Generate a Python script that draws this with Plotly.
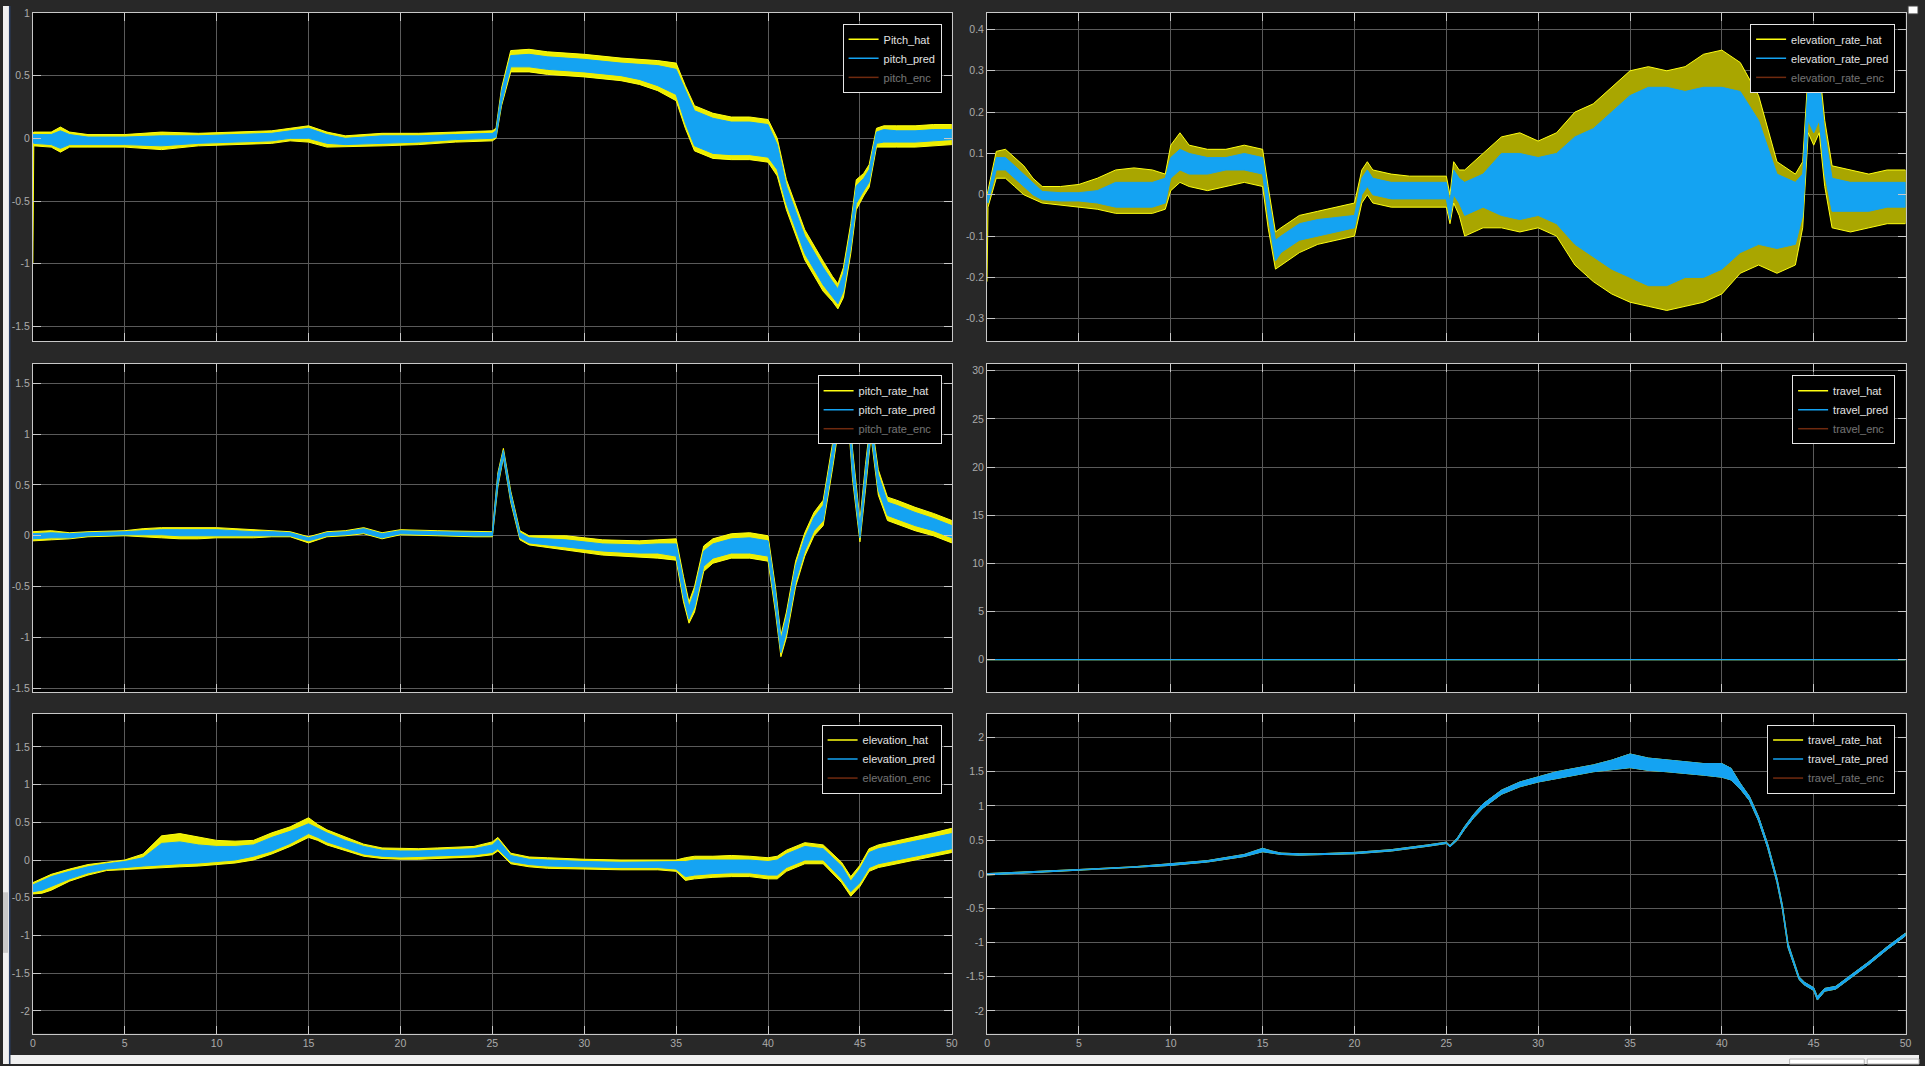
import plotly.graph_objects as go
import numpy as np

# ---------------- data ----------------
# Panel 1: pitch
pitch_t = [0, 0.05, 1, 1.5, 2, 3, 5, 7, 9, 11, 13, 14, 15, 16, 17, 19, 21, 23, 25, 25.2,
           25.5, 26, 27, 28, 30, 32, 33, 34, 35, 35.5, 36, 37, 38, 39, 40, 40.5, 41, 42, 43, 43.5,
           43.8, 44.1, 44.5, 44.8, 45.2, 45.5, 45.9, 46.3, 47, 48, 49, 50]
pitch_pred_lo = [-0.03, -0.04, -0.05, -0.08, -0.05, -0.05, -0.05, -0.06, -0.04, -0.03, -0.02, 0.0, 0.0, -0.04, -0.05,
                 -0.04, -0.03, -0.01, 0.0, 0.01, 0.28, 0.57, 0.57, 0.55, 0.53, 0.5, 0.47, 0.42, 0.35, 0.12,
                 -0.06, -0.12, -0.13, -0.13, -0.15, -0.25, -0.52, -0.92, -1.17, -1.26, -1.32, -1.22, -0.87, -0.52, -0.42,
                 -0.35, -0.04, -0.03, -0.03, -0.03, -0.02, -0.01]
pitch_pred_hi = [0.03, 0.03, 0.03, 0.06, 0.03, 0.01, 0.01, 0.02, 0.02, 0.03, 0.04, 0.06, 0.08, 0.03, 0.0,
                 0.02, 0.02, 0.03, 0.04, 0.06, 0.37, 0.66, 0.67, 0.65, 0.63, 0.6, 0.59, 0.58, 0.55, 0.38,
                 0.22, 0.16, 0.13, 0.13, 0.11, -0.05, -0.38, -0.78, -1.03, -1.14, -1.2, -1.08, -0.73, -0.38, -0.32,
                 -0.25, 0.05, 0.07, 0.06, 0.06, 0.07, 0.07]
pitch_hat_lo = [-1.0, -0.06, -0.07, -0.11, -0.07, -0.07, -0.07, -0.09, -0.06, -0.05, -0.04, -0.02, -0.03, -0.07, -0.07,
                -0.06, -0.05, -0.03, -0.02, 0.0, 0.26, 0.53, 0.53, 0.51, 0.49, 0.46, 0.43, 0.38, 0.3, 0.08,
                -0.1, -0.16, -0.17, -0.17, -0.19, -0.3, -0.57, -0.97, -1.22, -1.3, -1.36, -1.27, -0.92, -0.57, -0.46,
                -0.39, -0.07, -0.07, -0.07, -0.07, -0.06, -0.05]
pitch_hat_hi = [0.04, 0.05, 0.05, 0.09, 0.05, 0.03, 0.03, 0.05, 0.04, 0.05, 0.06, 0.08, 0.1, 0.05, 0.02,
                0.04, 0.04, 0.05, 0.06, 0.08, 0.4, 0.7, 0.71, 0.69, 0.67, 0.64, 0.63, 0.62, 0.6, 0.42,
                0.26, 0.2, 0.17, 0.17, 0.15, 0.0, -0.33, -0.73, -0.98, -1.1, -1.16, -1.03, -0.68, -0.33, -0.28,
                -0.21, 0.08, 0.1, 0.1, 0.1, 0.11, 0.11]

# Panel 2: elevation rate
elevrate_t = [0, 0.05, 0.5, 1, 1.5, 2, 2.5, 3, 4, 5, 6, 7, 8, 9, 9.7, 10, 10.5, 11, 12, 13,
              14, 15, 15.3, 15.7, 16, 17, 18, 19, 20, 20.4, 20.7, 21, 22, 23, 24, 25, 25.2, 25.4, 25.7, 26,
              27, 28, 29, 30, 31, 32, 33, 34, 35, 36, 37, 38, 39, 40, 41, 42, 43, 44, 44.4, 44.7,
              45, 45.3, 45.6, 46, 47, 48, 49, 50]
elevrate_pred_lo = [-0.01, -0.02, 0.06, 0.06, 0.04, 0.02, 0.0, -0.012, -0.015, -0.015,
                    -0.02, -0.03, -0.03, -0.03, -0.02, 0.04, 0.06, 0.05, 0.05, 0.06,
                    0.06, 0.05, -0.05, -0.16, -0.14, -0.11, -0.1, -0.09, -0.08, 0.0,
                    0.02, 0.0, -0.01, -0.01, -0.01, -0.01, -0.06, 0.0, -0.02, -0.05,
                    -0.03, -0.05, -0.06, -0.05, -0.07, -0.12, -0.15, -0.18, -0.2, -0.22,
                    -0.22, -0.2, -0.2, -0.18, -0.14, -0.12, -0.13, -0.12, -0.05, 0.18,
                    0.15, 0.18, 0.05, -0.04, -0.04, -0.04, -0.03, -0.03]
elevrate_pred_hi = [0.0, 0.0, 0.09, 0.09, 0.07, 0.05, 0.03, 0.008, 0.005, 0.005,
                    0.01, 0.03, 0.03, 0.03, 0.04, 0.09, 0.11, 0.1, 0.09, 0.09,
                    0.1, 0.09, 0.0, -0.11, -0.1, -0.07, -0.06, -0.055, -0.05, 0.04,
                    0.06, 0.04, 0.03, 0.03, 0.03, 0.03, -0.02, 0.06, 0.04, 0.03,
                    0.05, 0.1, 0.1, 0.09, 0.1, 0.14, 0.16, 0.2, 0.24, 0.26,
                    0.26, 0.25, 0.26, 0.26, 0.25, 0.18, 0.05, 0.03, 0.05, 0.27,
                    0.25, 0.28, 0.15, 0.04, 0.03, 0.03, 0.03, 0.03]
elevrate_hat_lo = [-0.21, -0.03, 0.04, 0.04, 0.02, 0.0, -0.01, -0.02, -0.025, -0.03,
                   -0.035, -0.045, -0.045, -0.045, -0.035, 0.01, 0.03, 0.02, 0.01, 0.02,
                   0.03, 0.02, -0.08, -0.18, -0.17, -0.14, -0.12, -0.11, -0.1, -0.02,
                   0.0, -0.02, -0.03, -0.03, -0.03, -0.03, -0.07, -0.02, -0.05, -0.1,
                   -0.08, -0.08, -0.09, -0.08, -0.1, -0.17, -0.21, -0.24, -0.26, -0.27,
                   -0.28, -0.27, -0.26, -0.24, -0.19, -0.17, -0.19, -0.17, -0.08, 0.15,
                   0.12, 0.15, 0.02, -0.08, -0.09, -0.08, -0.07, -0.07]
elevrate_hat_hi = [0.0, 0.01, 0.105, 0.11, 0.09, 0.07, 0.04, 0.02, 0.02, 0.025,
                   0.04, 0.06, 0.065, 0.06, 0.05, 0.12, 0.15, 0.12, 0.11, 0.11,
                   0.12, 0.11, 0.02, -0.09, -0.08, -0.05, -0.04, -0.03, -0.02, 0.06,
                   0.08, 0.06, 0.05, 0.045, 0.045, 0.045, 0.0, 0.08, 0.06, 0.06,
                   0.1, 0.14, 0.15, 0.13, 0.15, 0.2, 0.22, 0.26, 0.3, 0.31,
                   0.3, 0.31, 0.34, 0.35, 0.32, 0.24, 0.08, 0.05, 0.08, 0.3,
                   0.28, 0.31, 0.18, 0.07, 0.06, 0.05, 0.06, 0.06]

# Panel 3: pitch rate
pitchrate_t = [0, 1, 2, 3, 5, 6, 7, 8, 9, 10, 11, 12, 13, 14, 15, 16, 17, 18, 19, 20,
               22, 24, 25, 25.3, 25.6, 26, 26.5, 27, 29, 31, 33, 34, 35, 35.4, 35.7, 36, 36.5, 37, 38, 39,
               40, 40.4, 40.7, 41, 41.5, 42, 42.5, 43, 43.5, 44, 44.3, 44.6, 45, 45.3, 45.6, 46, 46.5, 47, 48, 49, 50]
pitchrate_pred_lo = [-0.03, -0.02, -0.02, 0.0, 0.01, 0.01, 0.01, 0.0, 0.0, 0.0,
                     0.0, 0.0, 0.0, 0.0, -0.05, 0.0, 0.01, 0.03, -0.02, 0.02,
                     0.01, 0.0, 0.0, 0.5, 0.78, 0.35, -0.02, -0.07, -0.11, -0.15,
                     -0.17, -0.17, -0.2, -0.6, -0.82, -0.7, -0.3, -0.22, -0.17, -0.17,
                     -0.2, -0.7, -1.15, -0.95, -0.45, -0.15, 0.05, 0.15, 0.7, 1.3,
                     1.35, 0.6, -0.02, 0.5, 1.02, 0.45, 0.2, 0.17, 0.1, 0.05, -0.02]
pitchrate_pred_hi = [0.02, 0.03, 0.02, 0.03, 0.04, 0.05, 0.06, 0.06, 0.06, 0.06,
                     0.05, 0.04, 0.04, 0.03, -0.02, 0.03, 0.04, 0.07, 0.02, 0.05,
                     0.04, 0.03, 0.03, 0.6, 0.84, 0.42, 0.03, -0.02, -0.04, -0.08,
                     -0.09, -0.08, -0.08, -0.45, -0.7, -0.55, -0.15, -0.08, -0.03, -0.02,
                     -0.05, -0.55, -1.02, -0.8, -0.3, -0.02, 0.18, 0.3, 0.85, 1.45,
                     1.5, 0.8, 0.1, 0.65, 1.13, 0.6, 0.33, 0.3, 0.23, 0.17, 0.1]
pitchrate_hat_lo = [-0.05, -0.04, -0.03, -0.01, 0.0, -0.01, -0.02, -0.03, -0.03, -0.02,
                    -0.02, -0.02, -0.01, -0.01, -0.07, -0.01, 0.0, 0.02, -0.03, 0.01,
                    0.0, -0.01, -0.01, 0.48, 0.77, 0.33, -0.04, -0.09, -0.14, -0.19,
                    -0.21, -0.22, -0.24, -0.65, -0.86, -0.75, -0.35, -0.27, -0.22, -0.22,
                    -0.25, -0.75, -1.19, -1.0, -0.5, -0.2, 0.0, 0.1, 0.65, 1.25,
                    1.3, 0.55, -0.06, 0.45, 0.98, 0.4, 0.15, 0.12, 0.05, 0.0, -0.07]
pitchrate_hat_hi = [0.04, 0.05, 0.03, 0.04, 0.05, 0.07, 0.08, 0.08, 0.08, 0.08,
                    0.07, 0.06, 0.05, 0.04, -0.01, 0.04, 0.05, 0.08, 0.03, 0.06,
                    0.05, 0.04, 0.04, 0.62, 0.86, 0.44, 0.05, 0.0, 0.0, -0.04,
                    -0.05, -0.04, -0.03, -0.4, -0.65, -0.5, -0.1, -0.03, 0.02, 0.03,
                    0.0, -0.5, -0.98, -0.75, -0.25, 0.03, 0.23, 0.35, 0.9, 1.5,
                    1.55, 0.85, 0.15, 0.7, 1.17, 0.65, 0.38, 0.35, 0.28, 0.22, 0.15]

# Panel 4: travel
travel_t = [0, 50]
travel_hat = [0, 0]
travel_pred = [0, 0]

# Panel 5: elevation
elev_t = [0, 0.5, 1, 2, 3, 4, 5, 6, 7, 8, 9, 10, 11, 12, 13, 14, 15, 15.5, 16, 17,
          18, 19, 20, 21, 22, 23, 24, 25, 25.3, 26, 27, 28, 30, 32, 34, 35, 35.5, 36, 37, 38,
          39, 40, 40.5, 41, 42, 43, 44, 44.5, 45, 45.5, 46, 47, 48, 49, 50]
elev_pred_lo = [-0.42, -0.4, -0.35, -0.25, -0.17, -0.12, -0.1, -0.08, -0.06, -0.05,
                -0.04, -0.02, 0.0, 0.05, 0.12, 0.22, 0.35, 0.3, 0.24, 0.16,
                0.08, 0.05, 0.04, 0.04, 0.05, 0.06, 0.07, 0.1, 0.15, -0.02,
                -0.06, -0.08, -0.09, -0.1, -0.1, -0.12, -0.22, -0.2, -0.18, -0.17,
                -0.17, -0.2, -0.2, -0.1, 0.0, 0.0, -0.25, -0.42, -0.3, -0.1,
                -0.05, 0.0, 0.05, 0.1, 0.15]
elev_pred_hi = [-0.33, -0.28, -0.22, -0.15, -0.09, -0.05, -0.02, 0.03, 0.22, 0.24,
                0.2, 0.18, 0.18, 0.2, 0.3, 0.38, 0.48, 0.42, 0.36, 0.26,
                0.18, 0.13, 0.12, 0.12, 0.13, 0.14, 0.15, 0.2, 0.27, 0.06,
                0.01, 0.0, -0.02, -0.03, -0.03, -0.03, -0.02, 0.0, 0.0, 0.01,
                0.0, -0.02, 0.0, 0.08, 0.18, 0.15, -0.08, -0.28, -0.12, 0.1,
                0.15, 0.2, 0.25, 0.3, 0.35]
elev_hat_lo = [-0.45, -0.44, -0.4, -0.28, -0.2, -0.14, -0.12, -0.11, -0.1, -0.09,
               -0.08, -0.06, -0.04, 0.0, 0.08, 0.18, 0.3, 0.26, 0.2, 0.12,
               0.05, 0.02, 0.01, 0.01, 0.02, 0.03, 0.04, 0.07, 0.12, -0.05,
               -0.09, -0.11, -0.12, -0.13, -0.13, -0.15, -0.27, -0.25, -0.23, -0.22,
               -0.22, -0.25, -0.25, -0.15, -0.05, -0.05, -0.3, -0.48, -0.35, -0.15,
               -0.1, -0.05, 0.0, 0.05, 0.1]
elev_hat_hi = [-0.3, -0.25, -0.19, -0.12, -0.06, -0.03, 0.0, 0.08, 0.32, 0.35,
               0.3, 0.26, 0.25, 0.26, 0.36, 0.44, 0.56, 0.47, 0.4, 0.3,
               0.21, 0.16, 0.15, 0.15, 0.16, 0.17, 0.18, 0.24, 0.3, 0.09,
               0.04, 0.03, 0.01, 0.0, 0.0, 0.0, 0.03, 0.05, 0.05, 0.06,
               0.05, 0.03, 0.05, 0.13, 0.23, 0.2, -0.03, -0.22, -0.07, 0.15,
               0.2, 0.25, 0.3, 0.36, 0.42]

# Panel 6: travel rate
travelrate_t = [0, 2, 5, 8, 10, 12, 14, 15, 15.5, 16, 17, 18, 20, 22, 24, 25, 25.2, 25.6, 26, 26.5,
                27, 28, 29, 30, 31, 32, 33, 34, 35, 36, 37, 38, 39, 40, 40.5, 41, 41.5, 42, 42.5, 43,
                43.3, 43.6, 44, 44.2, 44.5, 45, 45.2, 45.6, 46.2, 46.9, 48, 49, 50]
travelrate_pred_lo = [-0.01, 0.02, 0.06, 0.1, 0.13, 0.18, 0.26, 0.33, 0.31, 0.29,
                      0.28, 0.28, 0.3, 0.34, 0.41, 0.45, 0.4, 0.5, 0.66, 0.83,
                      0.97, 1.17, 1.28, 1.35, 1.4, 1.45, 1.5, 1.53, 1.56, 1.52,
                      1.5, 1.48, 1.45, 1.42, 1.38, 1.25, 1.08, 0.78, 0.38, -0.12,
                      -0.52, -1.07, -1.39, -1.54, -1.62, -1.7, -1.84, -1.71, -1.68, -1.54,
                      -1.32, -1.1, -0.9]
travelrate_pred_hi = [0.01, 0.03, 0.07, 0.11, 0.15, 0.2, 0.29, 0.38, 0.34, 0.31,
                      0.3, 0.3, 0.32, 0.36, 0.43, 0.47, 0.42, 0.53, 0.7, 0.88,
                      1.03, 1.23, 1.35, 1.43, 1.5, 1.55, 1.6, 1.67, 1.76, 1.7,
                      1.67, 1.64, 1.62, 1.62, 1.55, 1.33, 1.14, 0.84, 0.44, -0.06,
                      -0.46, -1.01, -1.34, -1.5, -1.58, -1.66, -1.79, -1.67, -1.64, -1.5,
                      -1.28, -1.06, -0.86]
travelrate_hat_lo = travelrate_pred_lo
travelrate_hat_hi = travelrate_pred_hi

# ---------------- styling ----------------
YEL = '#ffff11'
BLU = '#14a3f2'
ENC = '#e0541e'
BG = '#282828'
FONT = 'Liberation Sans, Arial, sans-serif'

W, H = 1925, 1066
xl = [30 / W, 953.3 / W]
xr = [988.7 / W, 1911.5 / W]
yt = [1 - 338 / H, 1 - 7 / H]
ym = [1 - 691.5 / H, 1 - 360.7 / H]
yb = [1 - 1035.3 / H, 1 - 713 / H]

fig = go.Figure()


def band(t, lo, hi, fillc, edgec, xa, ya):
    t = list(t)
    return go.Scatter(x=t + t[::-1], y=list(hi) + list(lo)[::-1], fill='toself', fillcolor=fillc,
                      line=dict(color=edgec, width=1), mode='lines', showlegend=False,
                      hoverinfo='skip', xaxis=xa, yaxis=ya)


def legend_entries(names, xa, ya, leg):
    cols = [YEL, BLU, ENC]
    for n, c, k in zip(names, cols, range(3)):
        fig.add_trace(go.Scatter(x=[None], y=[None], mode='lines', name=n, line=dict(color=c, width=1.5),
                                 xaxis=xa, yaxis=ya, legend=leg,
                                 visible='legendonly' if k == 2 else True))


panels = [
    (pitch_t, pitch_hat_lo, pitch_hat_hi, pitch_pred_lo, pitch_pred_hi,
     ('Pitch_hat', 'pitch_pred', 'pitch_enc'), 'x', 'y', 'legend', '#eeee00'),
    (elevrate_t, elevrate_hat_lo, elevrate_hat_hi, elevrate_pred_lo, elevrate_pred_hi,
     ('elevation_rate_hat', 'elevation_rate_pred', 'elevation_rate_enc'), 'x2', 'y2', 'legend2', '#a9a600'),
    (pitchrate_t, pitchrate_hat_lo, pitchrate_hat_hi, pitchrate_pred_lo, pitchrate_pred_hi,
     ('pitch_rate_hat', 'pitch_rate_pred', 'pitch_rate_enc'), 'x3', 'y3', 'legend3', '#eeee00'),
    None,
    (elev_t, elev_hat_lo, elev_hat_hi, elev_pred_lo, elev_pred_hi,
     ('elevation_hat', 'elevation_pred', 'elevation_enc'), 'x5', 'y5', 'legend5', '#eeee00'),
    (travelrate_t, travelrate_hat_lo, travelrate_hat_hi, travelrate_pred_lo, travelrate_pred_hi,
     ('travel_rate_hat', 'travel_rate_pred', 'travel_rate_enc'), 'x6', 'y6', 'legend6', '#eeee00'),
]

for p in panels:
    if p is None:
        continue
    t, hlo, hhi, plo, phi, names, xa, ya, leg, yfill = p
    assert len(t) == len(hlo) == len(hhi) == len(plo) == len(phi), names
    fig.add_trace(band(t, hlo, hhi, yfill, YEL, xa, ya))
    fig.add_trace(band(t, plo, phi, BLU, BLU, xa, ya))
    legend_entries(names, xa, ya, leg)

# travel panel: plain lines
fig.add_trace(go.Scatter(x=travel_t, y=travel_hat, mode='lines', line=dict(color=YEL, width=1.2),
                         showlegend=False, xaxis='x4', yaxis='y4', hoverinfo='skip'))
fig.add_trace(go.Scatter(x=travel_t, y=travel_pred, mode='lines', line=dict(color=BLU, width=1.2),
                         showlegend=False, xaxis='x4', yaxis='y4', hoverinfo='skip'))
legend_entries(('travel_hat', 'travel_pred', 'travel_enc'), 'x4', 'y4', 'legend4')


def fmt(v):
    if abs(v) < 1e-9:
        return '0'
    return '%g' % round(v, 6)


def yaxis(rng, dtick, dom, anchor):
    start = np.ceil(rng[0] / dtick) * dtick
    vals = [round(v, 6) for v in np.arange(start, rng[1] + 1e-9, dtick)]
    return dict(domain=dom, range=rng, anchor=anchor, tickmode='array', tickvals=vals,
                ticktext=[fmt(v) for v in vals], showline=True, linecolor='#c8c8c8', linewidth=1,
                mirror='ticks', ticks='inside', ticklen=8, tickcolor='#c8c8c8', showgrid=True,
                gridcolor='#5a5a5a', gridwidth=1, zeroline=False,
                tickfont=dict(size=10.5, color='#ababab', family=FONT))


def xaxis(dom, anchor, labels):
    vals = list(range(0, 51, 5))
    return dict(domain=dom, range=[0, 50], anchor=anchor, tickmode='array', tickvals=vals,
                ticktext=[str(v) for v in vals], showticklabels=labels, showline=True,
                linecolor='#c8c8c8', linewidth=1, mirror='ticks', ticks='inside', ticklen=8,
                tickcolor='#c8c8c8', showgrid=True, gridcolor='#5a5a5a', gridwidth=1, zeroline=False,
                tickfont=dict(size=10.5, color='#ababab', family=FONT))


def legend(xpx, ypx):
    return dict(x=xpx / W, y=1 - ypx / H, xanchor='right', yanchor='top', bgcolor='#000000',
                bordercolor='#e6e6e6', borderwidth=1, font=dict(size=11, color='#e2e2e2', family=FONT),
                tracegroupgap=0, itemwidth=30)


layout = dict(
    width=W, height=H, paper_bgcolor=BG, plot_bgcolor='#000000',
    margin=dict(l=0, r=0, t=0, b=0), font=dict(family=FONT),
    xaxis=xaxis(xl, 'y', False), yaxis=yaxis([-1.62, 1.0], 0.5, yt, 'x'),
    xaxis2=xaxis(xr, 'y2', False), yaxis2=yaxis([-0.355, 0.44], 0.1, yt, 'x2'),
    xaxis3=xaxis(xl, 'y3', False), yaxis3=yaxis([-1.54, 1.69], 0.5, ym, 'x3'),
    xaxis4=xaxis(xr, 'y4', False), yaxis4=yaxis([-3.4, 30.7], 5, ym, 'x4'),
    xaxis5=xaxis(xl, 'y5', True), yaxis5=yaxis([-2.3, 1.94], 0.5, yb, 'x5'),
    xaxis6=xaxis(xr, 'y6', True), yaxis6=yaxis([-2.33, 2.35], 0.5, yb, 'x6'),
    legend=legend(943, 18), legend2=legend(1901, 18),
    legend3=legend(943, 372), legend4=legend(1901, 372),
    legend5=legend(943, 724), legend6=legend(1901, 724),
    shapes=[
        dict(type='rect', xref='paper', yref='paper', x0=0, x1=6 / W, y0=0, y1=1,
             fillcolor='#f0f0f0', line=dict(width=0), layer='below'),
        dict(type='rect', xref='paper', yref='paper', x0=6 / W, x1=7.5 / W, y0=0, y1=1,
             fillcolor='#2a3f66', line=dict(width=0), layer='below'),
        dict(type='rect', xref='paper', yref='paper', x0=0, x1=5 / W, y0=1 - 954 / H, y1=1 - 893 / H,
             fillcolor='#c8c8c8', line=dict(width=0), layer='below'),
        dict(type='rect', xref='paper', yref='paper', x0=7.5 / W, x1=1, y0=0, y1=(H - 1057) / H,
             fillcolor='#f0f0f0', line=dict(width=0), layer='above'),
        dict(type='rect', xref='paper', yref='paper', x0=1795 / W, x1=1870 / W, y0=0, y1=(H - 1061) / H,
             fillcolor='#ffffff', line=dict(width=1, color='#b4b4b4'), layer='above'),
        dict(type='rect', xref='paper', yref='paper', x0=1873 / W, x1=1925 / W, y0=0, y1=(H - 1061) / H,
             fillcolor='#ffffff', line=dict(width=1, color='#b4b4b4'), layer='above'),
        dict(type='rect', xref='paper', yref='paper', x0=1914 / W, x1=1924 / W, y0=1 - 8 / H, y1=1,
             fillcolor='#ffffff', line=dict(width=1, color='#404040'), layer='above'),
    ],
)
fig.update_layout(**layout)
fig.write_html('out.html')
